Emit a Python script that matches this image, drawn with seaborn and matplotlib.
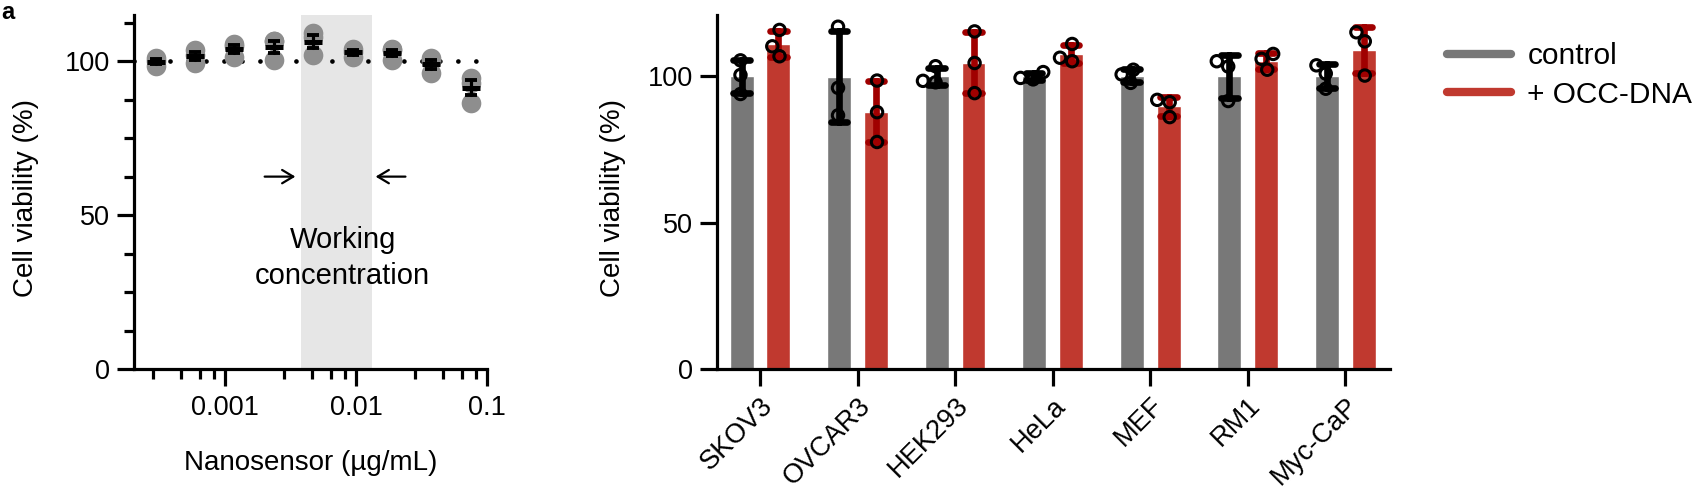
import numpy as np
import pandas as pd
import seaborn as sns
import matplotlib.pyplot as plt
from matplotlib.lines import Line2D
from matplotlib.ticker import FixedLocator, NullFormatter

# left: nanosensor titration, 3 replicates per concentration
conc = [0.000293, 0.000586, 0.00117, 0.00234, 0.00469, 0.00938, 0.01875, 0.0375, 0.075]
titr_rep1 = [101.0, 103.5, 105.5, 106.5, 109.0, 104.0, 104.0, 101.0, 94.5]
titr_rep2 = [100.0, 102.0, 105.0, 106.5, 108.0, 103.0, 103.5, 100.0, 93.0]
titr_rep3 = [98.5, 99.5, 101.5, 100.5, 102.0, 101.5, 100.5, 96.0, 86.5]
working_range = [0.0038, 0.0131]

# right: viability per cell line, 3 replicates per group
cell_lines = ["SKOV3", "OVCAR3", "HEK293", "HeLa", "MEF", "RM1", "Myc-CaP"]
groups = ["control", "+ OCC-DNA"]
ctrl_rep1 = [105.5, 117.0, 103.5, 101.5, 102.3, 105.2, 103.8]
ctrl_rep2 = [100.5, 96.1, 98.5, 99.5, 100.7, 103.4, 101.0]
ctrl_rep3 = [94.0, 86.7, 98.0, 99.0, 97.8, 91.6, 95.8]
occ_rep1 = [115.9, 98.6, 115.4, 111.1, 92.0, 107.7, 115.1]
occ_rep2 = [110.3, 87.8, 104.6, 106.4, 91.2, 106.0, 112.0]
occ_rep3 = [106.9, 77.6, 94.3, 105.2, 86.1, 102.3, 100.3]

df_titr = pd.DataFrame({
    "conc": conc * 3,
    "viability": titr_rep1 + titr_rep2 + titr_rep3,
})

rows = []
reps_by_group = {
    "control": [ctrl_rep1, ctrl_rep2, ctrl_rep3],
    "+ OCC-DNA": [occ_rep1, occ_rep2, occ_rep3],
}
for g in groups:
    for rep in reps_by_group[g]:
        for cell, v in zip(cell_lines, rep):
            rows.append({"cell": cell, "group": g, "viability": v})
df_cells = pd.DataFrame(rows)

sns.set_theme(style="ticks", rc={
    "axes.linewidth": 2.3,
    "axes.edgecolor": "black",
    "axes.labelcolor": "black",
    "text.color": "black",
    "xtick.color": "black",
    "ytick.color": "black",
    "xtick.major.size": 12, "xtick.major.width": 2.3,
    "ytick.major.size": 12, "ytick.major.width": 2.3,
    "xtick.minor.size": 7, "xtick.minor.width": 2.3,
    "ytick.minor.size": 7, "ytick.minor.width": 2.3,
    "xtick.labelsize": 19.5, "ytick.labelsize": 19.5,
    "axes.labelsize": 20,
})
plt.rcParams["font.family"] = ["Liberation Sans", "DejaVu Sans"]

fig = plt.figure(figsize=(16.92, 4.97), dpi=100)
ax1 = fig.add_axes([0.0792, 0.2575, 0.2086, 0.7123])
ax2 = fig.add_axes([0.4238, 0.2575, 0.3978, 0.7123])

# ---- left panel
ax1.set_xscale("log")
ax1.axvspan(*working_range, color="#e6e6e6", lw=0, zorder=0)
ax1.axhline(100, color="black", lw=3.4, linestyle=(0, (0.01, 3.8)),
            dash_capstyle="round", zorder=0.5)

sns.scatterplot(data=df_titr, x="conc", y="viability", color="#8e8e8e",
                s=200, linewidth=0, ax=ax1, zorder=1)
sns.lineplot(data=df_titr, x="conc", y="viability", errorbar="se",
             err_style="bars", color="black", linestyle="", marker="_",
             markersize=13, markeredgewidth=3.6, markeredgecolor="black",
             err_kws={"capsize": 4.5, "elinewidth": 2.3, "capthick": 2.8},
             ax=ax1)

ax1.set_xlim(0.0002, 0.1)
ax1.set_ylim(0, 115)
ax1.set_xticks([0.001, 0.01, 0.1], ["0.001", "0.01", "0.1"])
minor = [m * 10.0 ** e for e in (-4, -3, -2) for m in (2.8, 4.6, 6.4, 8.2)]
ax1.xaxis.set_minor_locator(FixedLocator(minor))
ax1.xaxis.set_minor_formatter(NullFormatter())
ax1.set_yticks([0, 50, 100])
ax1.set_yticks(np.arange(0, 115, 12.5), minor=True)
ax1.tick_params(axis="x", which="major", pad=7)
ax1.tick_params(axis="y", which="major", pad=5)

ax1.set_xlabel("Nanosensor (µg/mL)")
ax1.set_ylabel("Cell viability (%)")
ax1.xaxis.set_label_coords(0.5, -0.23)
ax1.yaxis.set_label_coords(-0.27, 0.483)

ax1.text(0.0079, 36, "Working\nconcentration", ha="center", va="center",
         fontsize=21, linespacing=1.35)
arrow = dict(arrowstyle="->,head_length=0.5,head_width=0.3", lw=1.6,
             color="black", mutation_scale=16)
ax1.annotate("", xy=(0.0036, 62.5), xytext=(0.0019, 62.5), arrowprops=arrow)
ax1.annotate("", xy=(0.0134, 62.5), xytext=(0.025, 62.5), arrowprops=arrow)
sns.despine(ax=ax1)

# ---- right panel
pal = {"control": "#787878", "+ OCC-DNA": "#c0392f"}
err_pal = {"control": "black", "+ OCC-DNA": "#a00000"}

sns.barplot(data=df_cells, x="cell", y="viability", hue="group",
            order=cell_lines, hue_order=groups, palette=pal, errorbar=None,
            width=0.755, gap=0.35, saturation=1, legend=False, ax=ax2)
sns.pointplot(data=df_cells, x="cell", y="viability", hue="group",
              order=cell_lines, hue_order=groups, palette=err_pal,
              errorbar="sd", dodge=0.378, linestyle="none", markers="",
              capsize=0.17, err_kws={"linewidth": 4.8, "solid_capstyle": "round"},
              legend=False, ax=ax2)
n_before = len(ax2.collections)
# swarm laid out with a smaller size so the replicates sit tighter, like Prism
sns.swarmplot(data=df_cells, x="cell", y="viability", hue="group",
              order=cell_lines, hue_order=groups, palette=pal, dodge=True,
              size=6.5, edgecolor="black", linewidth=2.2, legend=False, ax=ax2)

ax2.set_xlim(-0.44, 6.46)
ax2.set_ylim(0, 121)
ax2.set_yticks([0, 50, 100])
ax2.tick_params(axis="y", pad=5)
ax2.tick_params(axis="x", pad=5)
plt.setp(ax2.get_xticklabels(), rotation=45, ha="right", va="top",
         rotation_mode="anchor")
ax2.set_xlabel("")
ax2.set_ylabel("Cell viability (%)")
ax2.yaxis.set_label_coords(-0.135, 0.483)
sns.despine(ax=ax2)

fig.canvas.draw()
for coll in ax2.collections[n_before:]:
    if "draw" in coll.__dict__:
        del coll.draw
    coll.set_facecolor("none")
    coll.set_sizes([8.2 ** 2])

handles = [Line2D([], [], color=pal[g], lw=6) for g in groups]
fig.legend(handles, groups, loc="upper left", bbox_to_anchor=(0.855, 0.915),
           frameon=False, borderpad=0, borderaxespad=0, handlelength=2.15,
           handletextpad=0.55, labelspacing=0.35, fontsize=21.5)

fig.text(0.001, 0.998, "a", fontsize=17, fontweight="bold", va="top", ha="left")

fig.savefig("out.png", dpi=100)
